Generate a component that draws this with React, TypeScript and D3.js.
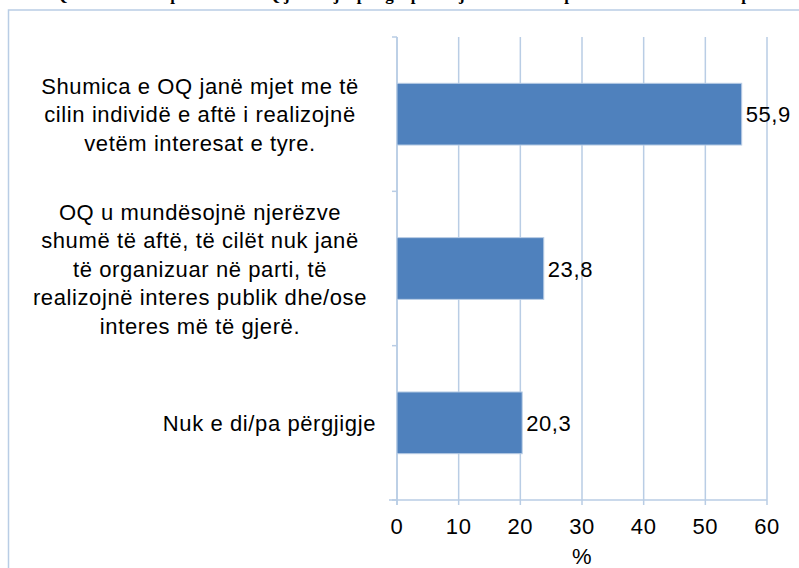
import React, { useEffect } from "react";
import * as d3 from "d3";

const categories = ["shumica", "mundesojne", "nukdi"];
const categoryLines = [
  ["Shumica e OQ janë mjet me të", "cilin individë e aftë i realizojnë", "vetëm interesat e tyre."],
  ["OQ u mundësojnë njerëzve", "shumë të aftë, të  cilët nuk janë", "të organizuar në parti, të", "realizojnë interes publik dhe/ose", "interes më të gjerë."],
  ["Nuk e di/pa përgjigje"],
];
const values = [55.9, 23.8, 20.3];
const xTicks = [0, 10, 20, 30, 40, 50, 60];
const axisTitle = "%";
const chartTitle = "Grafiku 11: Qëndrimet mbi pohimin se OQ janë mjet për grupet e njerëzve të aftë për të realizuar interesa publike apo personale, përgjigje";

const W = 799;
const H = 568;
const FONT = "'Liberation Sans', Arial, sans-serif";
const GRID = "#B9CDE5";
const BAR = "#4F81BD";
const FS = 22;
const LS = 0.6;

export default function App() {
  useEffect(() => {
    document.body.style.margin = "0";
  }, []);

  const x = d3.scaleLinear().domain([0, 60]).range([397, 767]);
  const y = d3
    .scaleBand<string>()
    .domain(categories)
    .range([37, 500])
    .paddingInner(0.6)
    .paddingOuter(0.3);
  const step = y.step();
  const boundaries = d3.range(categories.length + 1).map((i) => 37 + i * step);
  const lh = 28.5;

  return (
    <svg width={W} height={H} style={{ display: "block", position: "absolute", left: 0, top: 0 }} fontFamily={FONT}>
      <rect x={0} y={0} width={W} height={H} fill="#fff" />
      {/* clipped title */}
      <text x={470} y={0} textAnchor="middle" fontFamily="'Liberation Serif', 'Times New Roman', serif" fontWeight="bold" fontSize={17} fill="#000">
        {chartTitle}
      </text>
      {/* outer chart border */}
      <rect x={8.5} y={10} width={W + 20} height={H + 20} fill="#fff" stroke={GRID} strokeWidth={1.5} />

      {/* vertical gridlines */}
      {xTicks.map((t) => (
        <line key={"g" + t} x1={x(t)} x2={x(t)} y1={37} y2={505} stroke={GRID} strokeWidth={1.5} />
      ))}
      {/* category axis */}
      <line x1={x(0)} x2={x(0)} y1={37} y2={505} stroke={GRID} strokeWidth={1.5} />
      {boundaries.map((b, i) => (
        <line key={"ct" + i} x1={x(0) - 5} x2={x(0)} y1={b} y2={b} stroke={GRID} strokeWidth={1.5} />
      ))}
      {/* value axis */}
      <line x1={x(0) - 8} x2={x(60)} y1={500} y2={500} stroke={GRID} strokeWidth={1.5} />

      {/* bars */}
      {categories.map((c, i) => (
        <rect
          key={"b" + c}
          x={x(0)}
          y={y(c)}
          width={x(values[i]) - x(0)}
          height={y.bandwidth()}
          fill={BAR}
          stroke="#B9CDE5"
          strokeWidth={1}
        />
      ))}
      <g fontSize={FS} letterSpacing={LS} fill="#000">
        {/* value labels */}
        {categories.map((c, i) => (
          <text key={"v" + c} x={x(values[i]) + 4} y={(y(c) as number) + y.bandwidth() / 2 + 8}>
            {String(values[i]).replace(".", ",")}
          </text>
        ))}
        {/* category labels */}
        {categories.map((c, i) => {
          const lines = categoryLines[i];
          const cy = (y(c) as number) + y.bandwidth() / 2;
          const multi = lines.length > 1;
          const lx = multi ? 200 : 376;
          return (
            <text key={"c" + c} x={lx} textAnchor={multi ? "middle" : "end"}>
              {lines.map((l, j) => (
                <tspan key={j} x={lx} y={cy - ((lines.length - 1) / 2) * lh + 8 + j * lh}>
                  {l}
                </tspan>
              ))}
            </text>
          );
        })}
        {/* tick labels */}
        {xTicks.map((t) => (
          <text key={"t" + t} x={x(t)} y={534} textAnchor="middle">
            {t}
          </text>
        ))}
        <text x={x(30)} y={564} textAnchor="middle">
          {axisTitle}
        </text>
      </g>
    </svg>
  );
}
